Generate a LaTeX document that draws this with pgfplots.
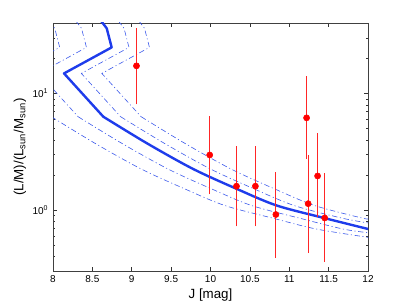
\documentclass[border=0pt]{standalone}
\usepackage{fontspec}
\setmainfont{Liberation Sans}
\usepackage{pgfplots}
\pgfplotsset{compat=1.18}
\definecolor{mainblue}{RGB}{30,60,235}
\definecolor{ddblue}{RGB}{60,90,235}
\definecolor{ptred}{RGB}{255,0,0}
\pgfplotsset{
  dd/.style={ddblue, line width=0.45pt, dash pattern=on 4pt off 2pt on 0.8pt off 2pt},
  ddsm/.style={dd, smooth, tension=0.5},
  eb/.style={ptred!85!white, line width=0.7pt, forget plot},
}
\begin{document}
\begin{tikzpicture}
\useasboundingbox (-39.75pt,-26.25pt) rectangle (265.5pt,203.25pt);
\begin{axis}[
  scale only axis, width=236.25pt, height=186pt,
  at={(0,0)}, anchor=south west,
  xmin=8, xmax=12, ymode=log, ymin=0.302, ymax=40.3,
  xtick={8,8.5,9,9.5,10,10.5,11,11.5,12},
  xticklabels={8,8.5,9,9.5,10,10.5,11,11.5,12},
  ytick={1,10}, yticklabels={10\textsuperscript{0},10\textsuperscript{1}},
  minor ytick={0.4,0.5,0.6,0.7,0.8,0.9,2,3,4,5,6,7,8,9,20,30},
  tick align=inside,
  major tick length=3pt, minor tick length=1.8pt,
  tick style={black!80, line width=0.4pt},
  tick label style={font=\fontsize{7.5}{8}\selectfont},
  label style={font=\fontsize{10}{12}\selectfont},
  xlabel={J [mag]},
  ylabel={(L/M)/(L\textsubscript{sun}/M\textsubscript{sun})},
  xlabel style={yshift=2pt},
  ylabel style={yshift=-2pt},
  axis line style={black!75, line width=0.6pt},
  clip=true,
]
% dash-dot curves
\addplot[dd] coordinates {(7.95,42) (8.022,36.3) (8.085,24.9) (7.48,14.9) (7.979,6.34)};
\addplot[ddsm] coordinates {(7.979,6.34) (8.54,3.73) (9.12,2.26) (9.67,1.53) (10.18,1.10) (10.79,0.857) (11.34,0.692) (12,0.587)};
\addplot[dd] coordinates {(8.29,42) (8.362,36.3) (8.425,24.9) (7.82,14.9) (8.319,6.34)};
\addplot[ddsm] coordinates {(8.319,6.34) (8.88,3.73) (9.46,2.26) (10.01,1.53) (10.52,1.10) (11.13,0.857) (11.68,0.692) (12,0.643)};
\addplot[dd] coordinates {(8.83,42) (8.902,36.3) (8.965,24.9) (8.36,14.9) (8.859,6.34)};
\addplot[ddsm] coordinates {(8.859,6.34) (9.42,3.73) (10.0,2.26) (10.55,1.53) (11.06,1.10) (11.67,0.857) (12,0.78)};
\addplot[dd] coordinates {(9.09,42) (9.162,36.3) (9.225,24.9) (8.62,14.9) (9.119,6.34)};
\addplot[ddsm] coordinates {(9.119,6.34) (9.68,3.73) (10.26,2.26) (10.81,1.53) (11.32,1.10) (11.93,0.857) (12,0.85)};
% main curve
\addplot[mainblue, line width=1.8pt, line join=round, line cap=round] coordinates {(8.61,42) (8.682,36.3) (8.745,24.9) (8.14,14.9) (8.639,6.34)};
\addplot[mainblue, line width=1.8pt, line cap=round, smooth, tension=0.5] coordinates {(8.639,6.34) (9.2,3.73) (9.78,2.26) (10.33,1.53) (10.84,1.10) (11.45,0.857) (12,0.692)};
% error bars
\addplot[eb] coordinates {(9.06,8.1) (9.06,36.4)};
\addplot[eb] coordinates {(9.99,1.37) (9.99,6.4)};
\addplot[eb] coordinates {(10.33,0.73) (10.33,3.56)};
\addplot[eb] coordinates {(10.57,0.73) (10.57,3.56)};
\addplot[eb] coordinates {(10.83,0.39) (10.83,2.14)};
\addplot[eb] coordinates {(11.22,2.75) (11.22,14.1)};
\addplot[eb] coordinates {(11.24,0.43) (11.24,2.98)};
\addplot[eb] coordinates {(11.36,0.88) (11.36,4.6)};
\addplot[eb] coordinates {(11.45,0.36) (11.45,2.1)};
% points
\addplot[only marks, mark=*, mark size=2.3pt, mark options={fill=ptred, draw=ptred}] coordinates {
(9.06,17.3) (9.99,2.98) (10.33,1.61) (10.57,1.61) (10.83,0.92) (11.22,6.2) (11.24,1.14) (11.36,1.97) (11.45,0.86)};
\end{axis}
\end{tikzpicture}
\end{document}
